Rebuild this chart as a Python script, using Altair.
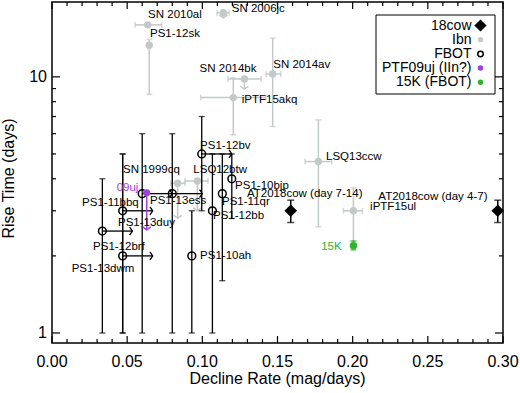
import math
import altair as alt
import pandas as pd

FONT = "Liberation Sans"
GRAY = "#c3c8c8"
PURPLE = "#a040e0"
GREEN = "#2db52d"

# ---------------- data ----------------
# FBOT sample (open circles, many with lower limits on decline rate)
fbot_name = ["PS1-12brf", "PS1-13dwm", "PS1-11bbq", "SN 1999cq", "PS1-13ess",
             "PS1-12bv", "PS1-10ah", "PS1-12bb", "PS1-11qr", "PS1-10bjp"]
fbot_x = [0.0335, 0.047, 0.047, 0.060, 0.080, 0.0996, 0.093, 0.1067, 0.1133, 0.1196]
fbot_y = [2.5, 2.0, 3.0, 3.5, 3.5, 5.0, 2.0, 3.0, 3.5, 4.0]
fbot_ylo = [1.0, 1.0, 1.0, 1.0, 1.0, 3.0, 1.0, 1.0, 1.6, 2.8]
fbot_yhi = [4.0, 5.0, 5.0, 6.0, 6.0, 7.0, 3.0, 5.0, 5.0, 5.0]
fbot_lowlim = [True, True, True, True, True, True, False, False, False, False]
ARROW_LEN = 0.02

# Ibn sample (grey filled)
ibn_name = ["SN 2010al", "PS1-12sk", "SN 2006jc", "SN 2014bk", "iPTF15akq",
            "SN 2014av", "LSQ13ccw", "iPTF15ul", "Ibn a", "Ibn b"]
ibn_x = [0.0637, 0.0647, 0.114, 0.128, 0.1206, 0.1468, 0.1772, 0.2005, 0.0836, 0.0967]
ibn_y = [15.96, 13.3, 17.8, 9.82, 8.30, 10.26, 4.67, 3.0, 3.84, 3.92]
ibn_xlo = [0.0552, None, 0.1098, 0.1171, 0.0989, 0.1424, 0.1683, 0.1938, 0.0790, 0.0885]
ibn_xhi = [0.0730, None, 0.1178, 0.1391, 0.1423, 0.1522, 0.1861, 0.2065, 0.0885, 0.1038]
ibn_ylo = [None, 8.55, None, None, 5.94, 6.40, 2.60, 2.27, None, None]
ibn_yhi = [None, 14.0, None, None, 9.91, 14.16, 6.79, 3.69, None, None]
ibn_uplim = [None, None, 17.0, 8.95, None, None, None, None, 2.81, 3.0]

# AT2018cow
cow_x = [0.1588, 0.2965]
cow_y = [3.0, 3.0]
cow_ylo = [2.7, 2.7]
cow_yhi = [3.3, 3.3]

# PTF09uj (upper limit on rise time)
ptf_x = [0.063]
ptf_y = [3.53]
ptf_uplim = [2.53]

# 15K
k15_x = [0.2005]
k15_y = [2.19]
k15_ylo = [2.11]
k15_yhi = [2.29]

# text labels (position in data units)
labL_text = ["SN 2010al", "PS1-12sk", "SN 2006jc", "iPTF15akq", "SN 2014av", "LSQ13ccw",
             "iPTF15ul", "AT2018cow (day 7-14)", "AT2018cow (day 4-7)", "LSQ12btw",
             "PS1-12bv", "SN 1999cq", "PS1-13ess", "PS1-11bbq", "PS1-13duy", "PS1-12brf",
             "PS1-13dwm", "PS1-10ah", "PS1-12bb", "PS1-11qr", "PS1-10bjp"]
labL_x = [0.0639, 0.0652, 0.1196, 0.1262, 0.1472, 0.1823,
          0.2116, 0.1297, 0.2171, 0.0940,
          0.0985, 0.0472, 0.0652, 0.0200, 0.0439, 0.0273,
          0.0131, 0.0985, 0.1071, 0.1131, 0.1218]
labL_y = [17.47, 14.69, 18.39, 8.13, 11.14, 4.88,
          3.09, 3.48, 3.41, 4.31,
          5.39, 4.31, 3.29, 3.22, 2.69, 2.17,
          1.78, 2.0, 2.87, 3.26, 3.76]
labC_text = ["SN 2014bk"]
labC_x = [0.1171]
labC_y = [10.72]
ptf_lab = ["09uj"]
ptf_lab_x = [0.043]
ptf_lab_y = [3.67]
k15_lab = ["15K"]
k15_lab_x = [0.1927]
k15_lab_y = [2.175]

# legend
leg_text = ["18cow", "Ibn", "FBOT", "PTF09uj (IIn?)", "15K (FBOT)"]

# axes
x_title = "Decline Rate (mag/days)"
y_title = "Rise Time (days)"
x_major = [0.0, 0.05, 0.10, 0.15, 0.20, 0.25, 0.30]
x_labels = ["0.00", "0.05", "0.10", "0.15", "0.20", "0.25", "0.30"]
x_minor = [round(i * 0.01, 2) for i in range(31) if i % 5 != 0]
y_major = [1, 10]
y_labels = ["1", "10"]
y_minor = [2, 3, 4, 5, 6, 7, 8, 9]

# ---------------- helpers ----------------
W, H = 451, 341
XMIN, XMAX = 0.0, 0.30
YMIN, YMAX = 0.914, 19.6
xs = alt.Scale(domain=[XMIN, XMAX], nice=False, zero=False)
ys = alt.Scale(type="log", domain=[YMIN, YMAX], nice=False)
PX_PER_DEC = H / math.log10(YMAX / YMIN)
X_PER_PX = (XMAX - XMIN) / W


def X(f):
    return alt.X(f, type="quantitative", scale=xs, axis=None)


def Y(f):
    return alt.Y(f, type="quantitative", scale=ys, axis=None)


RIGHT_CHEV = "M-0.7,-1L0,0L-0.7,1"
DOWN_CHEV = "M-1,-0.7L0,0L1,-0.7"

layers = []

# ---- inward ticks on all four sides (extents through the scales) ----
for vals, L in ((x_major, 7), (x_minor, 4)):
    f = 10 ** (L / PX_PER_DEC)
    d = pd.DataFrame({"tx": vals, "b0": [YMIN] * len(vals), "b1": [YMIN * f] * len(vals),
                      "t0": [YMAX] * len(vals), "t1": [YMAX / f] * len(vals)})
    layers.append(alt.Chart(d).mark_rule(color="black", strokeWidth=1.2).encode(
        x=X("tx"), y=Y("b0"), y2=alt.Y2("b1")))
    layers.append(alt.Chart(d).mark_rule(color="black", strokeWidth=1.2).encode(
        x=X("tx"), y=Y("t0"), y2=alt.Y2("t1")))
for vals, L in ((y_major, 8), (y_minor, 4)):
    dx = L * X_PER_PX
    d = pd.DataFrame({"ty": vals, "l0": [XMIN] * len(vals), "l1": [XMIN + dx] * len(vals),
                      "r0": [XMAX] * len(vals), "r1": [XMAX - dx] * len(vals)})
    layers.append(alt.Chart(d).mark_rule(color="black", strokeWidth=1.2).encode(
        y=Y("ty"), x=X("l0"), x2=alt.X2("l1")))
    layers.append(alt.Chart(d).mark_rule(color="black", strokeWidth=1.2).encode(
        y=Y("ty"), x=X("r0"), x2=alt.X2("r1")))

# ---- tick labels and axis titles ----
layers += [
    alt.Chart(pd.DataFrame({"xv": x_major, "t": x_labels})).mark_text(
        align="center", baseline="alphabetic", fontSize=16, font=FONT, color="black").encode(
        x=X("xv"), y=alt.value(H + 23.7), text="t:N"),
    alt.Chart(pd.DataFrame({"yv": y_major, "t": y_labels})).mark_text(
        align="right", baseline="middle", fontSize=16, font=FONT, color="black").encode(
        y=Y("yv"), x=alt.value(-5), text="t:N"),
    alt.Chart(pd.DataFrame({"t": [x_title]})).mark_text(
        align="center", baseline="alphabetic", fontSize=16, font=FONT, color="black").encode(
        x=alt.value(W / 2), y=alt.value(H + 40.5), text="t:N"),
    alt.Chart(pd.DataFrame({"t": [y_title]})).mark_text(
        align="center", baseline="middle", angle=270, fontSize=16, font=FONT, color="black").encode(
        x=alt.value(-43), y=alt.value(176.5), text="t:N"),
]

# ---- Ibn ----
ibn_h = pd.DataFrame([dict(x=ibn_x[i], y=ibn_y[i], xlo=ibn_xlo[i], xhi=ibn_xhi[i])
                      for i in range(len(ibn_x)) if ibn_xlo[i] is not None])
ibn_hcap = pd.DataFrame([dict(x=v, y=r["y"]) for _, r in ibn_h.iterrows() for v in (r["xlo"], r["xhi"])])
ibn_v = pd.DataFrame([dict(x=ibn_x[i], y=ibn_y[i], ylo=ibn_ylo[i], yhi=ibn_yhi[i])
                      for i in range(len(ibn_x)) if ibn_ylo[i] is not None])
ibn_vcap = pd.DataFrame([dict(x=r["x"], y=v) for _, r in ibn_v.iterrows() for v in (r["ylo"], r["yhi"])])
ibn_l = pd.DataFrame([dict(x=ibn_x[i], y=ibn_y[i], yend=ibn_uplim[i])
                      for i in range(len(ibn_x)) if ibn_uplim[i] is not None])
ibn_pts = pd.DataFrame(dict(x=ibn_x, y=ibn_y, name=ibn_name))

layers += [
    alt.Chart(ibn_h).mark_rule(color=GRAY, strokeWidth=1.5).encode(x=X("xlo"), x2=alt.X2("xhi"), y=Y("y")),
    alt.Chart(ibn_hcap).mark_tick(color=GRAY, orient="vertical", size=6, thickness=1.5).encode(x=X("x"), y=Y("y")),
    alt.Chart(ibn_v).mark_rule(color=GRAY, strokeWidth=1.5).encode(x=X("x"), y=Y("ylo"), y2=alt.Y2("yhi")),
    alt.Chart(ibn_vcap).mark_tick(color=GRAY, orient="horizontal", size=6, thickness=1.5).encode(x=X("x"), y=Y("y")),
    alt.Chart(ibn_l).mark_rule(color=GRAY, strokeWidth=1.5).encode(x=X("x"), y=Y("y"), y2=alt.Y2("yend")),
    alt.Chart(ibn_l).mark_point(shape=DOWN_CHEV, filled=False, size=64, color=GRAY, strokeWidth=1.5,
                                opacity=1).encode(x=X("x"), y=Y("yend")),
    alt.Chart(ibn_pts).mark_point(shape="circle", filled=True, size=55, color=GRAY, opacity=1).encode(
        x=X("x"), y=Y("y")),
]

# ---- FBOT ----
fb = pd.DataFrame(dict(x=fbot_x, y=fbot_y, ylo=fbot_ylo, yhi=fbot_yhi, name=fbot_name, lim=fbot_lowlim))
fb_cap = pd.DataFrame([dict(x=fbot_x[i], y=v) for i in range(len(fbot_x)) for v in (fbot_ylo[i], fbot_yhi[i])])
fb_arr = pd.DataFrame([dict(x=fbot_x[i], y=fbot_y[i], xend=fbot_x[i] + ARROW_LEN)
                       for i in range(len(fbot_x)) if fbot_lowlim[i]])
layers += [
    alt.Chart(fb).mark_rule(color="black", strokeWidth=1.3).encode(x=X("x"), y=Y("ylo"), y2=alt.Y2("yhi")),
    alt.Chart(fb_cap).mark_tick(color="black", orient="horizontal", size=6, thickness=1.3).encode(x=X("x"), y=Y("y")),
    alt.Chart(fb_arr).mark_rule(color="black", strokeWidth=1.3).encode(x=X("x"), x2=alt.X2("xend"), y=Y("y")),
    alt.Chart(fb_arr).mark_point(shape=RIGHT_CHEV, filled=False, size=64, color="black", strokeWidth=1.3,
                                 opacity=1).encode(x=X("xend"), y=Y("y")),
    alt.Chart(fb).mark_point(shape="circle", filled=False, size=60, color="black", strokeWidth=1.5,
                             opacity=1).encode(x=X("x"), y=Y("y")),
]

# ---- PTF09uj ----
ptf = pd.DataFrame(dict(x=ptf_x, y=ptf_y, yend=ptf_uplim))
layers += [
    alt.Chart(ptf).mark_rule(color=PURPLE, strokeWidth=1.5).encode(x=X("x"), y=Y("y"), y2=alt.Y2("yend")),
    alt.Chart(ptf).mark_point(shape=DOWN_CHEV, filled=False, size=64, color=PURPLE, strokeWidth=1.5,
                              opacity=1).encode(x=X("x"), y=Y("yend")),
    alt.Chart(ptf).mark_point(shape="circle", filled=True, size=50, color=PURPLE, opacity=1).encode(
        x=X("x"), y=Y("y")),
]

# ---- 15K ----
k15 = pd.DataFrame(dict(x=k15_x, y=k15_y, ylo=k15_ylo, yhi=k15_yhi))
k15_cap = pd.DataFrame([dict(x=k15_x[0], y=v) for v in (k15_ylo[0], k15_yhi[0])])
layers += [
    alt.Chart(k15).mark_rule(color=GREEN, strokeWidth=1.5).encode(x=X("x"), y=Y("ylo"), y2=alt.Y2("yhi")),
    alt.Chart(k15_cap).mark_tick(color=GREEN, orient="horizontal", size=6, thickness=1.5).encode(x=X("x"), y=Y("y")),
    alt.Chart(k15).mark_point(shape="circle", filled=True, size=55, color=GREEN, opacity=1).encode(
        x=X("x"), y=Y("y")),
]

# ---- AT2018cow ----
cow = pd.DataFrame(dict(x=cow_x, y=cow_y, ylo=cow_ylo, yhi=cow_yhi))
cow_cap = pd.DataFrame([dict(x=cow_x[i], y=v) for i in range(len(cow_x)) for v in (cow_ylo[i], cow_yhi[i])])
layers += [
    alt.Chart(cow).mark_rule(color="black", strokeWidth=1.5).encode(x=X("x"), y=Y("ylo"), y2=alt.Y2("yhi")),
    alt.Chart(cow_cap).mark_tick(color="black", orient="horizontal", size=7, thickness=1.5).encode(x=X("x"), y=Y("y")),
    alt.Chart(cow).mark_point(shape="diamond", filled=True, size=160, color="black", opacity=1).encode(
        x=X("x"), y=Y("y")),
]

# ---- labels ----
TXT = dict(fontSize=11.5, font=FONT, baseline="middle")
layers += [
    alt.Chart(pd.DataFrame(dict(x=labL_x, y=labL_y, t=labL_text))).mark_text(align="left", color="black", **TXT)
    .encode(x=X("x"), y=Y("y"), text="t:N"),
    alt.Chart(pd.DataFrame(dict(x=labC_x, y=labC_y, t=labC_text))).mark_text(align="center", color="black", **TXT)
    .encode(x=X("x"), y=Y("y"), text="t:N"),
    alt.Chart(pd.DataFrame(dict(x=ptf_lab_x, y=ptf_lab_y, t=ptf_lab))).mark_text(align="left", color=PURPLE, **TXT)
    .encode(x=X("x"), y=Y("y"), text="t:N"),
    alt.Chart(pd.DataFrame(dict(x=k15_lab_x, y=k15_lab_y, t=k15_lab))).mark_text(align="right", color=GREEN, **TXT)
    .encode(x=X("x"), y=Y("y"), text="t:N"),
]

# ---- legend (drawn in pixel space) ----
one = pd.DataFrame({"a": [0]})
layers.append(alt.Chart(one).mark_rect(fill="white", stroke="black", strokeWidth=1).encode(
    x=alt.value(324), x2=alt.value(443), y=alt.value(13), y2=alt.value(92)))
leg_y0, leg_dy = 23.5, 14.2
leg_sym = [
    dict(shape="diamond", filled=True, size=150, color="black"),
    dict(shape="circle", filled=True, size=28, color=GRAY),
    dict(shape="circle", filled=False, size=30, color="black", strokeWidth=1.5),
    dict(shape="circle", filled=True, size=30, color=PURPLE),
    dict(shape="circle", filled=True, size=30, color=GREEN),
]
for i, t in enumerate(leg_text):
    yy = leg_y0 + i * leg_dy
    layers.append(alt.Chart(pd.DataFrame({"t": [t]})).mark_text(
        align="right", baseline="middle", fontSize=14, font=FONT, color="black").encode(
        x=alt.value(419.5), y=alt.value(yy), text="t:N"))
    layers.append(alt.Chart(one).mark_point(opacity=1, **leg_sym[i]).encode(
        x=alt.value(428.5), y=alt.value(yy)))

chart = alt.layer(*layers).properties(
    width=W, height=H,
    padding={"left": 52, "top": 2, "right": 17, "bottom": 50},
    autosize=alt.AutoSizeParams(type="none"),
    background="white",
).configure(font=FONT).configure_view(stroke="black", strokeWidth=1.5)

chart.save("out.html", embed_options={"renderer": "svg", "actions": False})
